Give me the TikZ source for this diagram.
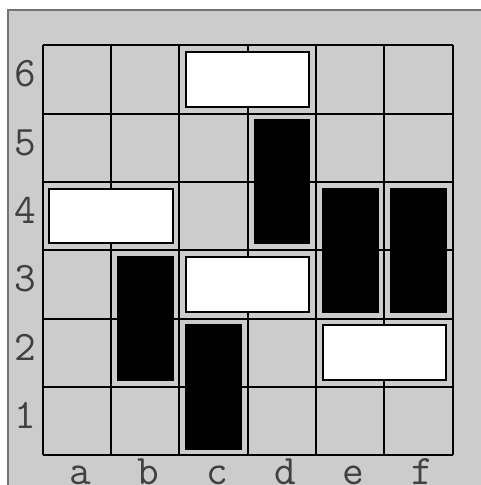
\documentclass[tikz,border=0pt]{standalone}
\usetikzlibrary{positioning}
\definecolor{boardgray}{HTML}{CCCCCC}

\tikzset{
  board/.style={fill=boardgray, draw=black!55, line width=0.8pt},
  gridline/.style={line width=1pt, step=1.2cm},
  whitepiece/.style={fill=white, draw=black, line width=1pt},
  blackpiece/.style={fill=black, draw=black, line width=1pt},
  coordlabel/.style={font=\ttfamily\fontsize{21}{21}\selectfont, text=black!75, inner sep=0pt, anchor=base}
}

\begin{document}
\begin{tikzpicture}[x=1.2cm, y=1.2cm]
  \useasboundingbox (-0.624,-0.434) rectangle (6.408,6.662);

  % board background
  \draw[board] (-0.503,-1) rectangle (7,6.512);

  % the 6x6 grid
  \draw[gridline] (0,0) grid (6,6);

  % white pieces (lying)
  \foreach \x/\y in {2/5, 0/3, 2/2, 4/1} {
    \draw[whitepiece] (\x+0.1,\y+0.1) rectangle (\x+1.9,\y+0.9);
  }

  % black pieces (standing)
  \foreach \x/\y in {1/1, 2/0, 3/3, 4/2, 5/2} {
    \draw[blackpiece] (\x+0.1,\y+0.1) rectangle (\x+0.9,\y+1.9);
  }

  % row numbers
  \foreach \r in {1,...,6} {
    \node[coordlabel] (row\r) at (-0.259,\r-0.61) {\r};
  }

  % column letters
  \foreach \c [count=\i] in {a,...,f} {
    \node[coordlabel] (col\c) at (\i-0.45,-0.42) {\c};
  }
\end{tikzpicture}
\end{document}
